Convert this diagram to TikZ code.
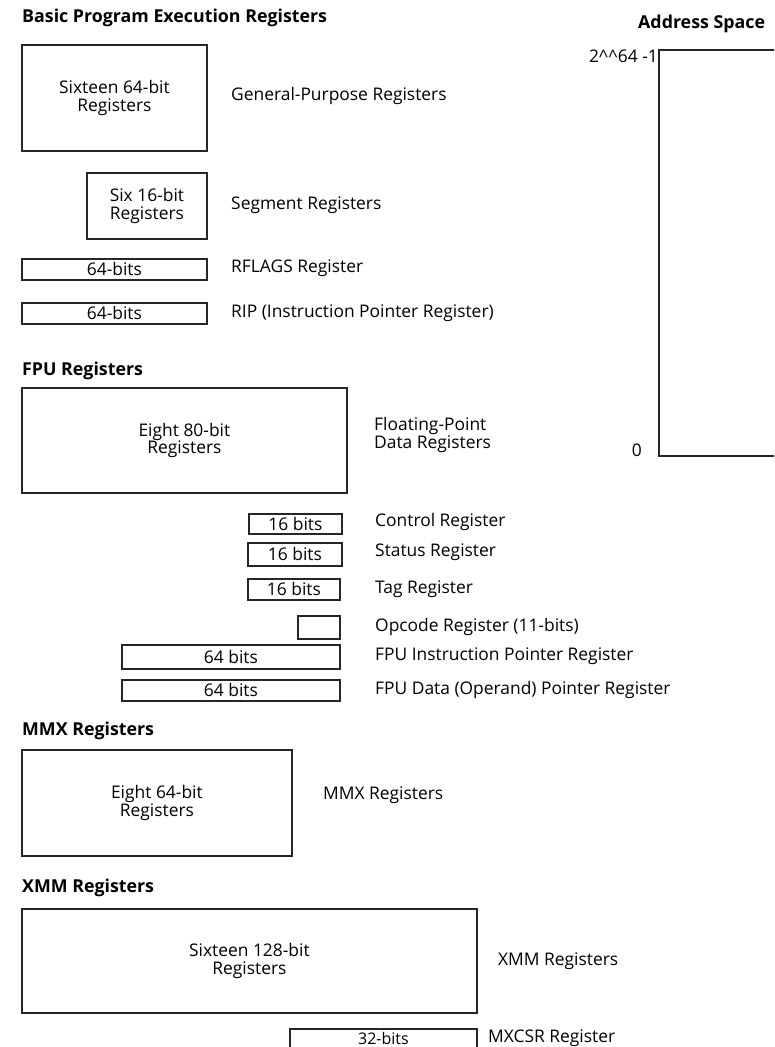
\documentclass[tikz,border=0pt]{standalone}
\usepackage{fontspec}
\setmainfont{Open Sans}
\newcommand{\regfont}{\fontsize{17.4}{17.5}\selectfont}
\newcommand{\headfont}{\fontsize{17.8}{17}\selectfont\bfseries}
\begin{document}
\begin{tikzpicture}[x=1pt,y=-1pt,
  boxline/.style={draw=black!85, line width=1.8pt},
  reg/.style={boxline, inner sep=0pt, anchor=north west, align=center, font=\regfont},
  lbl/.style={anchor=west, inner sep=0pt, font=\regfont, align=left},
  head/.style={anchor=west, inner sep=0pt, font=\headfont}]
\clip (0,0) rectangle (774,1047);
\fill[white] (0,0) rectangle (774,1047);
% Basic program execution registers
\node[head] (h1) at (22,18) {Basic Program Execution Registers};
\node[reg, minimum width=185pt, minimum height=106pt] (gpr) at (21,44) {Sixteen 64-bit\\Registers};
\node[lbl] (gprl) at (231,96) {General-Purpose Registers};
\node[reg, minimum width=120pt, minimum height=66pt] (seg) at (86,172) {Six 16-bit\\Registers};
\node[lbl] (segl) at (231,205) {Segment Registers};
\node[reg, minimum width=185pt, minimum height=21pt] (rfl) at (21,258) {64-bits};
\node[lbl] (rfll) at (231,268) {RFLAGS Register};
\node[reg, minimum width=185pt, minimum height=21pt] (rip) at (21,302) {64-bits};
\node[lbl] (ripl) at (231,313) {RIP (Instruction Pointer Register)};
% Address space
\node[head] (h2) at (638,24) {Address Space};
\node[reg, minimum width=140pt, minimum height=406pt] (as) at (658,49) {};
\node[anchor=east, inner sep=0pt, font=\regfont] (top) at (as.north west) [yshift=-7pt] {2\textasciicircum\textasciicircum64 -1};
\node[anchor=east, inner sep=0pt, font=\regfont] (bot) at (642,450) {0};
% FPU
\node[head] (h3) at (22,371) {FPU Registers};
\node[reg, minimum width=325pt, minimum height=105pt] (fpr) at (21,387) {Eight 80-bit\\Registers};
\node[lbl] (fprl) at (374,435) {Floating-Point\\Data Registers};
\node[reg, minimum width=93pt, minimum height=20pt] (ctl) at (248,513) {16 bits};
\node[lbl] (ctll) at (375,522) {Control Register};
\node[reg, minimum width=94pt, minimum height=23pt] (sts) at (247,542) {16 bits};
\node[lbl] (stsl) at (375,552) {Status Register};
\node[reg, minimum width=92pt, minimum height=21pt] (tag) at (247,578) {16 bits};
\node[lbl] (tagl) at (375,589) {Tag Register};
\node[reg, minimum width=42pt, minimum height=23pt] (opc) at (297,615) {};
\node[lbl] (opcl) at (375,627) {Opcode Register (11-bits)};
\node[reg, minimum width=218pt, minimum height=24pt] (fip) at (121,644) {64 bits};
\node[lbl] (fipl) at (375,656) {FPU Instruction Pointer Register};
\node[reg, minimum width=218pt, minimum height=21pt] (fdp) at (121,679) {64 bits};
\node[lbl] (fdpl) at (375,690) {FPU Data (Operand) Pointer Register};
% MMX
\node[head] (h4) at (22,731) {MMX Registers};
\node[reg, minimum width=270pt, minimum height=106pt] (mmx) at (21,749) {Eight 64-bit\\Registers};
\node[lbl] (mmxl) at (323,795) {MMX Registers};
% XMM
\node[head] (h5) at (22,888) {XMM Registers};
\node[reg, minimum width=455pt, minimum height=104pt] (xmm) at (21,908) {Sixteen 128-bit\\Registers};
\node[lbl] (xmml) at (498,961) {XMM Registers};
\node[reg, draw=none, minimum width=185pt, minimum height=17pt, font=\fontsize{16}{16}\selectfont] (mxc) at (290,1029) {32-bits};
\draw[boxline] (mxc.south west) ++(0,20) |- (mxc.north east) -- ++(0,40);
\node[lbl] (mxcl) at (488,1038) {MXCSR Register};
\end{tikzpicture}
\end{document}
